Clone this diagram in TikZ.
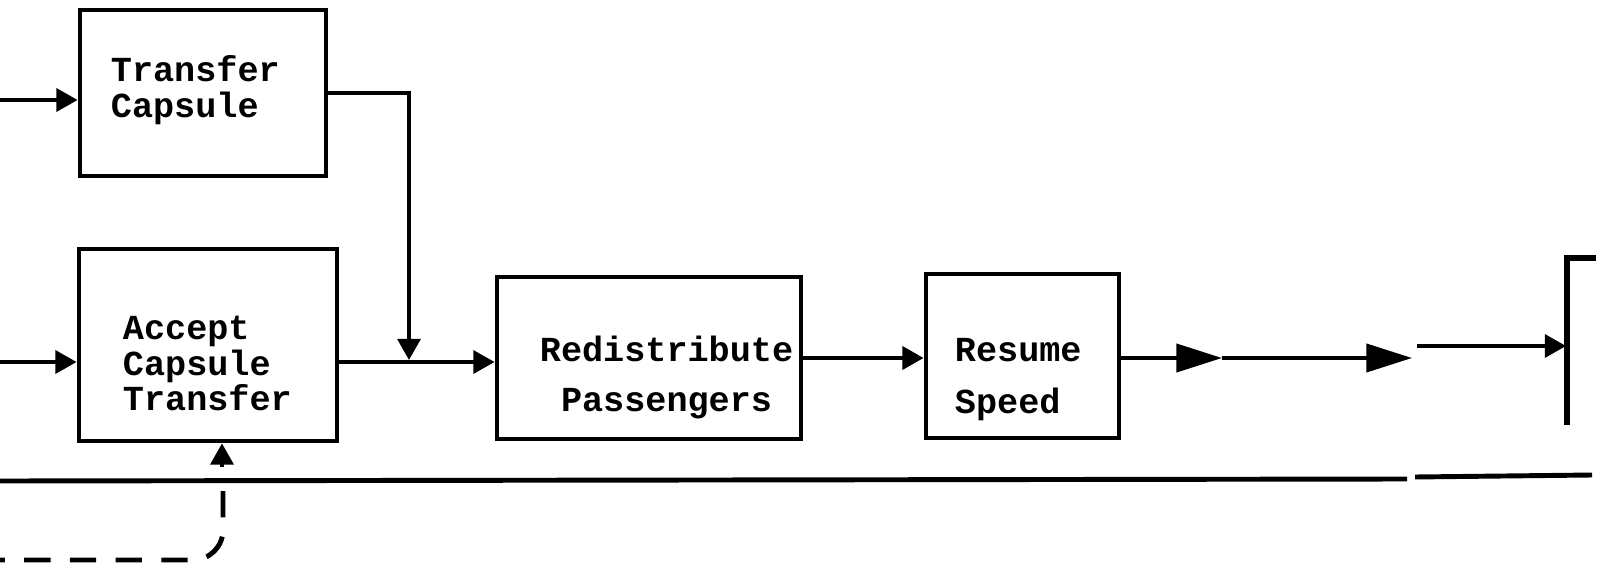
\documentclass[tikz,border=0pt]{standalone}
\usepackage{fontspec}
\setmonofont{Liberation Mono}
\usetikzlibrary{arrows.meta}
\hyphenpenalty=10000

\begin{document}
\begin{tikzpicture}[x=0.01cm, y=-0.01cm,
  font=\fontsize{10}{10}\selectfont\ttfamily\bfseries,
  block/.style={draw, line width=1.35pt, inner ysep=0pt, align=left},
  flow/.style={line width=1.05pt, -{Triangle[length=6pt, width=6.5pt]}},
  bigflow/.style={line width=1.05pt, -{Triangle[length=13pt, width=8pt]}},
  rule/.style={line width=1.4pt}]
  \useasboundingbox (0,0) rectangle (1609,564);

  % Boxes
  \node[block, inner xsep=0.31cm, text width=1.84cm, text height=0.72cm, text depth=0.94cm]
    (transfer) at (203,93) {Transfer\\Capsule};
  \node[block, inner xsep=0.44cm, text width=1.70cm, text height=0.91cm, text depth=1.01cm]
    (accept) at (208,345) {Accept\\Capsule\\Transfer};
  \node[block, inner xsep=0.43cm, text width=2.18cm, text height=0.84cm, text depth=0.78cm]
    (redist) at (649,358) {Redistribute\\[4.5pt]\phantom{R}Passengers};
  \node[block, inner xsep=0.29cm, text width=1.35cm, text height=0.87cm, text depth=0.77cm]
    (resume) at (1022.5,356) {Resume\\[4.8pt]Speed};

  % Free ends
  \coordinate (in1) at (0,100);
  \coordinate (in2) at (0,362);
  \coordinate (join) at (409,360);
  \coordinate (m1) at (1222,358);
  \coordinate (m2) at (1412,358);
  \coordinate (m3) at (1417,346);
  \coordinate (nxt) at (1566,346);
  \coordinate (fb) at (222,467);

  % Flow lines
  \draw[flow] (in1) -- (in1 -| transfer.west);
  \draw[flow] (in2) -- (in2 -| accept.west);
  \draw[flow] (transfer.east) -| (join);
  \draw[flow] (in2 -| accept.east) -- (in2 -| redist.west);
  \draw[flow] (redist.east) -- (redist.east -| resume.west);
  \draw[bigflow] (resume.east |- m1) -- (m1);
  \draw[bigflow] (m1) -- (m2);
  \draw[flow] (m3) -- (nxt);

  % Next box, cut at the edge
  \draw[line width=1.5pt] (1596,258) -| (1567,425);

  % Rule across the page
  \draw[rule] (0,481) -- (1407,479);
  \draw[rule] (1415,477) -- (1592,475);

  % Feedback from below
  \draw[flow] (fb) -- (fb |- accept.south);
  \draw[line width=1.4pt, dash pattern=on 7.5pt off 5.5pt, rounded corners=3mm]
    (223,491) -- (223,560) -- (0,560);
\end{tikzpicture}
\end{document}
